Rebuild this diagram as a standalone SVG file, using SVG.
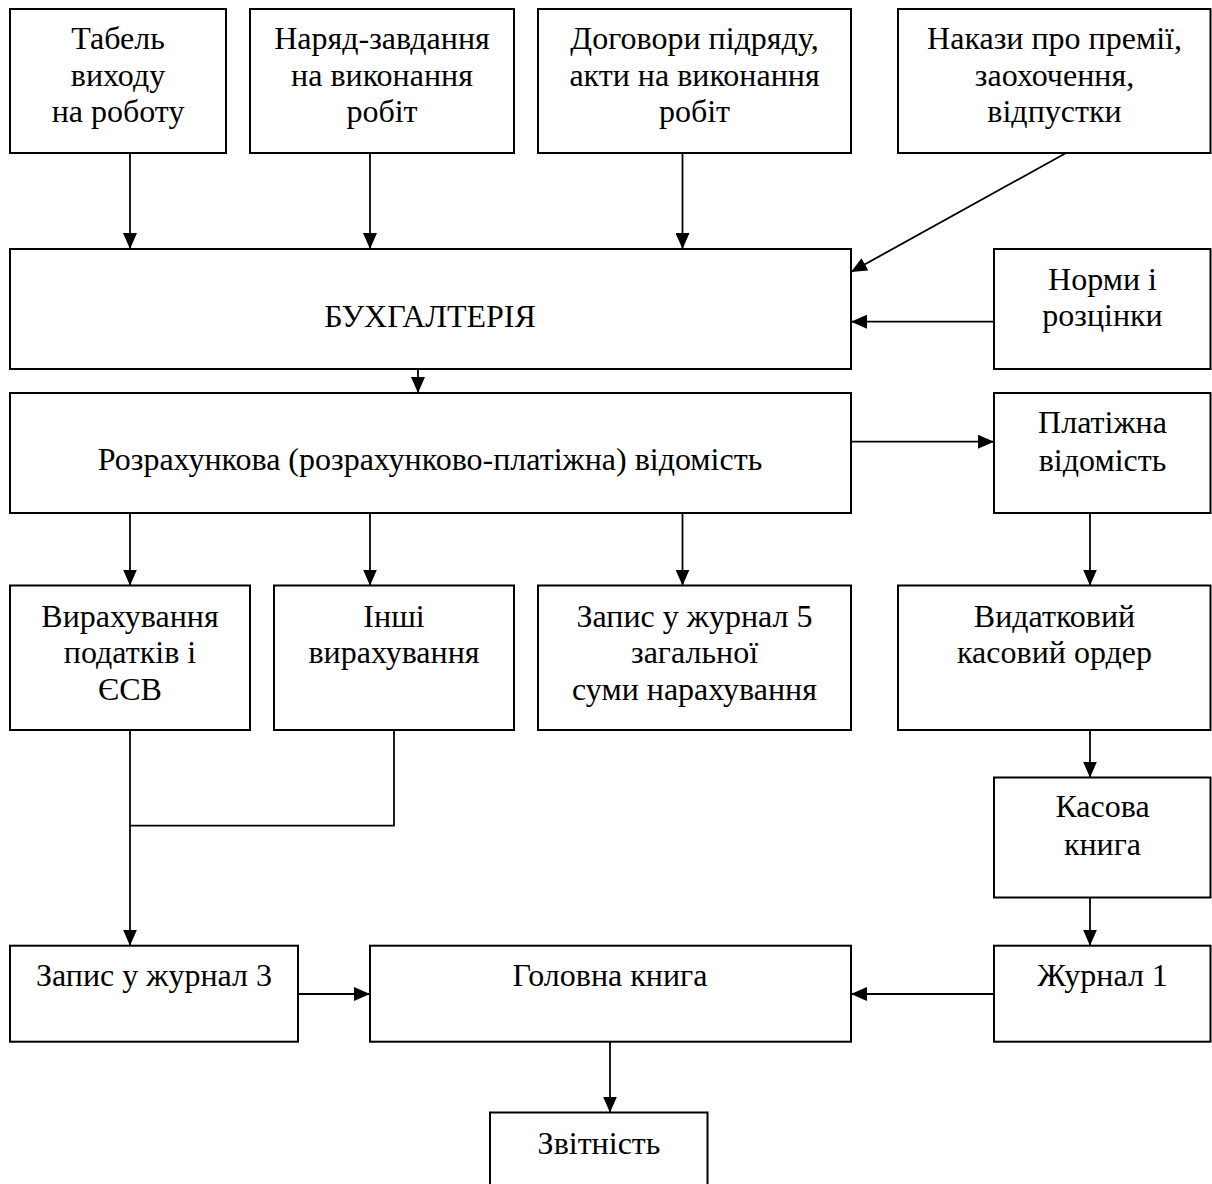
<svg xmlns="http://www.w3.org/2000/svg" width="1212" height="1184" viewBox="0 0 1212 1184">
<style>
.box{fill:#fff;stroke:#000;stroke-width:2}
.t{font-family:"Liberation Serif","Times New Roman",serif;font-size:32px;fill:#000;text-anchor:middle}
.c{fill:none;stroke:#000;stroke-width:1.8}
.a{marker-end:url(#ah)}
</style>
<defs>
<marker id="ah" markerUnits="userSpaceOnUse" markerWidth="16" markerHeight="14" viewBox="0 0 16 14" refX="16" refY="7" orient="auto">
<path d="M0,0 L16,7 L0,14 Z" fill="#000"/>
</marker>
</defs>
<rect width="1212" height="1184" fill="#fff"/>
<g id="connectors">
<line class="c a" x1="130" y1="153" x2="130" y2="249"/>
<line class="c a" x1="370" y1="153" x2="370" y2="249"/>
<line class="c a" x1="682.5" y1="153" x2="682.5" y2="249"/>
<line class="c a" x1="1066" y1="153" x2="851" y2="272"/>
<line class="c a" x1="994" y1="321.7" x2="851" y2="321.7"/>
<line class="c a" x1="418" y1="369" x2="418" y2="393"/>
<line class="c a" x1="851" y1="441.7" x2="994" y2="441.7"/>
<line class="c a" x1="130" y1="513" x2="130" y2="585.5"/>
<line class="c a" x1="370" y1="513" x2="370" y2="585.5"/>
<line class="c a" x1="682.5" y1="513" x2="682.5" y2="585.5"/>
<line class="c a" x1="1090" y1="513" x2="1090" y2="585.5"/>
<line class="c a" x1="1090" y1="730" x2="1090" y2="777.5"/>
<line class="c a" x1="1090" y1="897.3" x2="1090" y2="945.7"/>
<line class="c a" x1="130" y1="730" x2="130" y2="945.7"/>
<polyline class="c" points="394,730 394,825.7 130,825.7"/>
<line class="c a" x1="298" y1="994" x2="370" y2="994"/>
<line class="c a" x1="994" y1="994" x2="851" y2="994"/>
<line class="c a" x1="610" y1="1041.7" x2="610" y2="1112.5"/>
</g>
<g id="n-tabel"><rect class="box" x="10" y="9" width="216" height="144"/>
<text class="t" x="118" y="49.3">Табель</text><text class="t" x="118" y="86">виходу</text><text class="t" x="118" y="121.7">на роботу</text></g>
<g id="n-naryad"><rect class="box" x="250" y="9" width="264" height="144"/>
<text class="t" x="382" y="49.3">Наряд-завдання</text><text class="t" x="382" y="86">на виконання</text><text class="t" x="382" y="121.7">робіт</text></g>
<g id="n-dogovory"><rect class="box" x="538" y="9" width="313" height="144"/>
<text class="t" x="694.5" y="49.3">Договори підряду,</text><text class="t" x="694.5" y="86">акти на виконання</text><text class="t" x="694.5" y="121.7">робіт</text></g>
<g id="n-nakazy"><rect class="box" x="898" y="9" width="312.5" height="144"/>
<text class="t" x="1054.5" y="49.3">Накази про премії,</text><text class="t" x="1054.5" y="86">заохочення,</text><text class="t" x="1054.5" y="121.7">відпустки</text></g>
<g id="n-buh"><rect class="box" x="10" y="249" width="841" height="120"/>
<text class="t" x="430" y="326.7">БУХГАЛТЕРІЯ</text></g>
<g id="n-normy"><rect class="box" x="994" y="249" width="216.5" height="120"/>
<text class="t" x="1102.5" y="290">Норми і</text><text class="t" x="1102.5" y="326">розцінки</text></g>
<g id="n-rozrah"><rect class="box" x="10" y="393" width="841" height="120"/>
<text class="t" x="430" y="470">Розрахункова (розрахунково-платіжна) відомість</text></g>
<g id="n-platizhna"><rect class="box" x="994" y="393" width="216.5" height="120"/>
<text class="t" x="1102.5" y="433.3">Платіжна</text><text class="t" x="1102.5" y="470.7">відомість</text></g>
<g id="n-vyrah"><rect class="box" x="10" y="585.5" width="240" height="144.5"/>
<text class="t" x="130" y="626.5">Вирахування</text><text class="t" x="130" y="663.3">податків і</text><text class="t" x="130" y="700">ЄСВ</text></g>
<g id="n-inshi"><rect class="box" x="274" y="585.5" width="240" height="144.5"/>
<text class="t" x="394" y="626.5">Інші</text><text class="t" x="394" y="663.3">вирахування</text></g>
<g id="n-zapys5"><rect class="box" x="538" y="585.5" width="313" height="144.5"/>
<text class="t" x="694.5" y="626.5">Запис у журнал 5</text><text class="t" x="694.5" y="662.7">загальної</text><text class="t" x="694.5" y="700">суми нарахування</text></g>
<g id="n-vydatkovyi"><rect class="box" x="898" y="585.5" width="312.5" height="144.5"/>
<text class="t" x="1054.5" y="626.5">Видатковий</text><text class="t" x="1054.5" y="663.3">касовий ордер</text></g>
<g id="n-kasova"><rect class="box" x="994" y="777.5" width="216.5" height="120"/>
<text class="t" x="1102.5" y="817.3">Касова</text><text class="t" x="1102.5" y="854.7">книга</text></g>
<g id="n-zapys3"><rect class="box" x="10" y="945.7" width="288" height="96"/>
<text class="t" x="154" y="985.7">Запис у журнал 3</text></g>
<g id="n-holovna"><rect class="box" x="370" y="945.7" width="481" height="96"/>
<text class="t" x="610" y="985.7">Головна книга</text></g>
<g id="n-zhurnal1"><rect class="box" x="994" y="945.7" width="216.5" height="96"/>
<text class="t" x="1102.5" y="985.7">Журнал 1</text></g>
<g id="n-zvitnist"><rect class="box" x="490" y="1112.5" width="217.5" height="100"/>
<text class="t" x="599" y="1154">Звітність</text></g>
</svg>
